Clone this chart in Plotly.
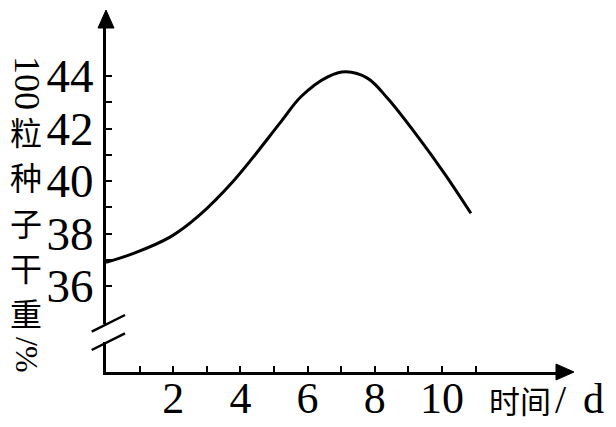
import plotly.graph_objects as go

# data
days = [0.0, 0.84, 1.93, 2.73, 3.82, 5.21, 5.80, 6.60, 7.14, 7.79, 8.38, 9.28, 10.07, 10.86]
weight = [36.9, 37.25, 37.88, 38.64, 40.04, 42.26, 43.21, 43.97, 44.16, 43.91, 43.15, 41.69, 40.29, 38.77]

x_tickvals = list(range(1, 12))
x_ticktext = ["", "2", "", "4", "", "6", "", "8", "", "10", ""]
y_tickvals = list(range(36, 45))
y_ticktext = ["36", "", "38", "", "40", "", "42", "", "44"]
y_title_chars = ["粒", "种", "子", "干", "重"]

W, H = 616, 427
L, R, T, B = 106, 60, 28, 55
pw, ph = W - L - R, H - T - B

def px_to_paper_x(px):
    return (px - L) / pw

def py_to_paper_y(py):
    return (H - B - py) / ph

fig = go.Figure()
fig.add_trace(go.Scatter(x=days, y=weight, mode="lines",
                         line=dict(color="black", width=3, shape="spline", smoothing=1),
                         hoverinfo="skip", showlegend=False))

serif = "Liberation Serif, Times New Roman, serif"
cjk = "Noto Sans CJK SC, sans-serif"

fig.update_layout(
    width=W, height=H,
    margin=dict(l=L, r=R, t=T, b=B, autoexpand=False),
    paper_bgcolor="white", plot_bgcolor="white",
    xaxis=dict(range=[0, pw / 33.6], showgrid=False, zeroline=False, automargin=False,
               showline=True, linecolor="black", linewidth=3,
               ticks="inside", ticklen=6, tickwidth=2, tickcolor="black",
               tickvals=x_tickvals, ticktext=x_ticktext, ticklabelstandoff=-15,
               tickfont=dict(family=serif, size=44, color="black")),
    yaxis=dict(range=[36 - (H - B - 286) / 26.25, 36 + (286 - T) / 26.25],
               showgrid=False, zeroline=False, automargin=False,
               showline=True, linecolor="black", linewidth=3,
               ticks="inside", ticklen=6, tickwidth=2, tickcolor="black",
               tickvals=y_tickvals, ticktext=y_ticktext,
               tickfont=dict(family=serif, size=47, color="black")),
)

shapes = []
# arrow heads
shapes.append(dict(type="path", xref="paper", yref="paper", xsizemode="pixel", ysizemode="pixel",
                   xanchor=1, yanchor=0, path="M0,-8 L18,0 L0,8 Z",
                   fillcolor="black", line=dict(color="black", width=1)))
shapes.append(dict(type="path", xref="paper", yref="paper", xsizemode="pixel", ysizemode="pixel",
                   xanchor=0, yanchor=1, path="M-8,0 L0,18 L8,0 Z",
                   fillcolor="black", line=dict(color="black", width=1)))
# axis break
shapes.append(dict(type="rect", xref="paper", yref="paper",
                   x0=px_to_paper_x(100), x1=px_to_paper_x(112),
                   y0=py_to_paper_y(342), y1=py_to_paper_y(324),
                   fillcolor="white", line=dict(width=0), layer="above"))
shapes.append(dict(type="line", xref="paper", yref="paper",
                   x0=px_to_paper_x(91.7), y0=py_to_paper_y(331.7),
                   x1=px_to_paper_x(125), y1=py_to_paper_y(315),
                   line=dict(color="black", width=2.5)))
shapes.append(dict(type="line", xref="paper", yref="paper",
                   x0=px_to_paper_x(91.7), y0=py_to_paper_y(350),
                   x1=px_to_paper_x(125), y1=py_to_paper_y(333.3),
                   line=dict(color="black", width=2.5)))
fig.update_layout(shapes=shapes)

ann = []
def add_text(text, cx, cy, family, size, angle=0):
    ann.append(dict(text=text, textangle=angle, font=dict(family=family, size=size, color="black"),
                    xref="paper", yref="paper", x=px_to_paper_x(cx), y=py_to_paper_y(cy),
                    xanchor="center", yanchor="middle", showarrow=False))

# y title: vertical text
add_text("100", 27, 83, serif, 36, 90)
for ch, cy in zip(y_title_chars, [131, 176, 222, 267, 312]):
    add_text(ch, 26, cy, cjk, 32)
add_text("/%", 27, 355, serif, 32, 90)
# x title
add_text("时间", 520, 399, cjk, 31)
add_text("/", 561, 399, serif, 40)
add_text("d", 593, 399, serif, 42)
fig.update_layout(annotations=ann)

fig.write_html("out.html", config={"displayModeBar": False},
               post_script="document.body.style.margin='0';document.body.style.overflow='hidden';")
